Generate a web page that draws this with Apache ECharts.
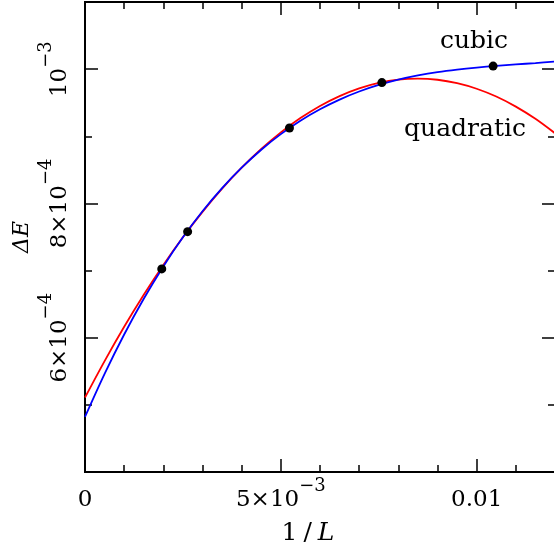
<!DOCTYPE html>
<html>
<head>
<meta charset="utf-8">
<script src="https://cdn.jsdelivr.net/npm/echarts@6/dist/echarts.min.js"></script>
<style>
  html, body { margin: 0; padding: 0; background: #ffffff; }
  #chart { width: 554px; height: 553px; }
</style>
</head>
<body>
<div id="chart"></div>
<script>
// Finite-size data: gap ΔE versus inverse system size 1/L
const dataX = [0.00196, 0.00262, 0.00522, 0.00758, 0.01042];
const dataY = [7.025e-4, 7.58e-4, 9.124e-4, 9.80e-4, 1.0045e-3];

// Fitted curves sampled along 1/L
const fitX = [0, 0.0005, 0.001, 0.0015, 0.002, 0.0025, 0.003, 0.0035, 0.004, 0.0045, 0.005, 0.0055,
  0.006, 0.0065, 0.007, 0.0075, 0.008, 0.0085, 0.009, 0.0095, 0.010, 0.0105, 0.011, 0.0115, 0.012];
const quadraticY = [5.109e-4, 5.652e-4, 6.163e-4, 6.640e-4, 7.084e-4, 7.496e-4, 7.874e-4, 8.220e-4,
  8.532e-4, 8.811e-4, 9.058e-4, 9.271e-4, 9.452e-4, 9.599e-4, 9.714e-4, 9.795e-4, 9.844e-4, 9.859e-4,
  9.842e-4, 9.791e-4, 9.708e-4, 9.592e-4, 9.442e-4, 9.260e-4, 9.045e-4];
const cubicY = [4.821e-4, 5.462e-4, 6.048e-4, 6.580e-4, 7.062e-4, 7.495e-4, 7.883e-4, 8.228e-4,
  8.532e-4, 8.800e-4, 9.032e-4, 9.232e-4, 9.403e-4, 9.547e-4, 9.667e-4, 9.765e-4, 9.844e-4, 9.906e-4,
  9.956e-4, 9.994e-4, 1.0024e-3, 1.0048e-3, 1.0070e-3, 1.0091e-3, 1.0114e-3];

// Axis ticks and labels
const xMajorTicks = [0.005, 0.01];
const xMinorTicks = [0.001, 0.002, 0.003, 0.004, 0.006, 0.007, 0.008, 0.009, 0.011];
const xLabelValues = [0, 0.005, 0.01];
const xLabelTexts = [['0', ''], ['5×10', '−3'], ['0.01', '']];
const yMajorTicks = [6e-4, 8e-4, 1e-3];
const yMinorTicks = [5e-4, 7e-4, 9e-4];
const yLabelValues = [6e-4, 8e-4, 1e-3];
const yLabelTexts = [['6×10', '−4'], ['8×10', '−4'], ['10', '−3']];

const FONT = '"DejaVu Serif", serif';
const X_MIN = 0, X_MAX = 0.012;
const Y_MIN = 4e-4, Y_MAX = 1.1e-3;

// main text sits low, the exponent sits high; both tokens share one box height
const rich = {
  m: { fontFamily: FONT, fontSize: 23, color: '#000', verticalAlign: 'bottom', padding: [12, 0, 0, 0] },
  s: { fontFamily: FONT, fontSize: 18, color: '#000', verticalAlign: 'top', padding: [0, 0, 17, 0] },
  p: { fontFamily: FONT, fontSize: 23, color: '#000', verticalAlign: 'bottom', padding: [12, 0, 0, 0] }
};

function labelFormatter(values, texts) {
  return function (v) {
    const i = values.findIndex(t => Math.abs(t - v) < 1e-9);
    if (i < 0) return '';
    const [main, sup] = texts[i];
    return sup ? '{m|' + main + '}{s|' + sup + '}' : '{p|' + main + '}';
  };
}

const lineStyle = { color: '#000', width: 2 };
const tickStyle = { color: '#000', width: 1.5 };

function xAxisDef(position, ticks, len, withLabels) {
  const ax = {
    type: 'value', position, min: X_MIN, max: X_MAX,
    axisLine: { show: true, onZero: false, lineStyle },
    axisTick: { show: true, inside: true, length: len, customValues: ticks, lineStyle: tickStyle },
    splitLine: { show: false },
    axisLabel: { show: false }
  };
  if (withLabels) {
    ax.axisLabel = {
      show: true, margin: 5, customValues: xLabelValues,
      formatter: labelFormatter(xLabelValues, xLabelTexts), rich
    };
    ax.name = '{a|1}{b|/}{c|L}';
    ax.nameLocation = 'middle';
    ax.nameGap = 49;
    ax.nameMoveOverlap = false;
    ax.nameTextStyle = {
      padding: [0, 24, 0, 0],
      rich: {
        a: { fontFamily: FONT, fontSize: 25, color: '#000' },
        b: { fontFamily: FONT, fontSize: 25, color: '#000', padding: [0, 6, 0, 6] },
        c: { fontFamily: FONT, fontSize: 25, color: '#000', fontStyle: 'italic' }
      }
    };
  }
  return ax;
}

function yAxisDef(position, ticks, len, withLabels) {
  const ax = {
    type: 'value', position, min: Y_MIN, max: Y_MAX,
    axisLine: { show: true, onZero: false, lineStyle },
    axisTick: { show: true, inside: true, length: len, customValues: ticks, lineStyle: tickStyle },
    splitLine: { show: false },
    axisLabel: { show: false }
  };
  if (withLabels) {
    ax.axisLabel = {
      show: true, rotate: 90, margin: 13, customValues: yLabelValues,
      formatter: labelFormatter(yLabelValues, yLabelTexts), rich
    };
    ax.name = 'ΔE';
    ax.nameLocation = 'middle';
    ax.nameGap = 52;
    ax.nameMoveOverlap = false;
    ax.nameTextStyle = { fontFamily: FONT, fontSize: 22, fontStyle: 'italic', color: '#000' };
  }
  return ax;
}

const chart = echarts.init(document.getElementById('chart'), null, { renderer: 'canvas' });

chart.setOption({
  animation: false,
  backgroundColor: '#ffffff',
  grid: { left: 85, right: -1, top: 2, bottom: 81, containLabel: false, outerBoundsMode: 'none' },
  xAxis: [
    xAxisDef('bottom', xMajorTicks, 13, true),
    xAxisDef('bottom', xMinorTicks, 7, false),
    xAxisDef('top', xMajorTicks, 13, false),
    xAxisDef('top', xMinorTicks, 7, false)
  ],
  yAxis: [
    yAxisDef('left', yMajorTicks, 13, true),
    yAxisDef('left', yMinorTicks, 7, false),
    yAxisDef('right', yMajorTicks, 13, false),
    yAxisDef('right', yMinorTicks, 7, false)
  ],
  series: [
    {
      name: 'quadratic', type: 'line', xAxisIndex: 0, yAxisIndex: 0,
      data: fitX.map((x, i) => [x, quadraticY[i]]),
      smooth: 0.3, showSymbol: false, symbol: 'none',
      lineStyle: { color: '#ff0000', width: 1.8 }, z: 2
    },
    {
      name: 'cubic', type: 'line', xAxisIndex: 0, yAxisIndex: 0,
      data: fitX.map((x, i) => [x, cubicY[i]]),
      smooth: 0.3, showSymbol: false, symbol: 'none',
      lineStyle: { color: '#0000ff', width: 1.8 }, z: 3
    },
    {
      name: 'data', type: 'scatter', xAxisIndex: 0, yAxisIndex: 0,
      data: dataX.map((x, i) => [x, dataY[i]]),
      symbol: 'circle', symbolSize: 9,
      itemStyle: { color: '#000', opacity: 1 }, z: 4
    }
  ],
  graphic: [
    {
      type: 'text', x: 474, y: 41, silent: true,
      style: { text: 'cubic', font: '25px "DejaVu Serif", serif', fill: '#000', align: 'center', verticalAlign: 'middle' }
    },
    {
      type: 'text', x: 465, y: 129, silent: true,
      style: { text: 'quadratic', font: '25px "DejaVu Serif", serif', fill: '#000', align: 'center', verticalAlign: 'middle' }
    }
  ]
});
</script>
</body>
</html>
